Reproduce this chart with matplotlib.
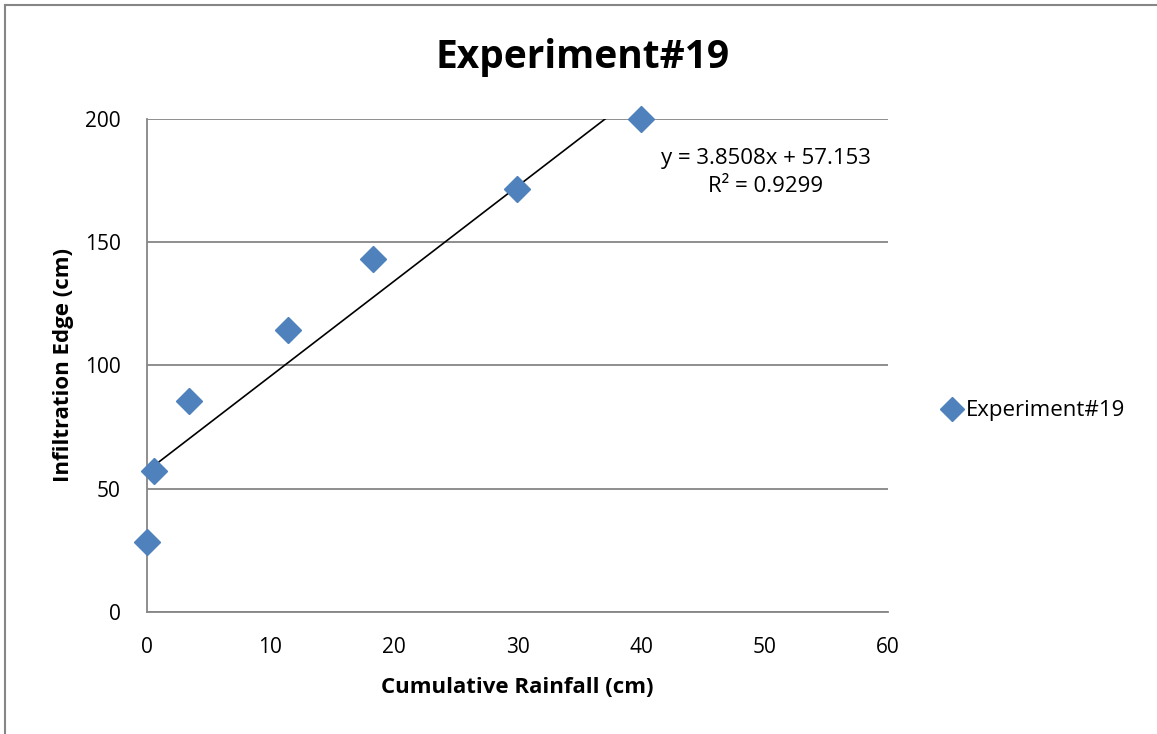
import numpy as np
import matplotlib
matplotlib.use("Agg")
import matplotlib.pyplot as plt
from matplotlib.lines import Line2D

plt.rcParams['font.family'] = ['Open Sans', 'DejaVu Sans']

# data
rainfall = [0, 0.6, 3.4, 11.4, 18.3, 30.0, 40.0]
edge = [28.6, 57.2, 85.8, 114.4, 143.0, 171.5, 200.0]
slope = 3.8508
intercept = 57.153
r2 = 0.9299

fig = plt.figure(figsize=(11.57, 7.34), dpi=100)
ax = fig.add_axes([0.127, 0.1662, 0.6405, 0.6717])

# gridlines
ax.set_axisbelow(True)
ax.yaxis.grid(True, color="#868686", linewidth=1.3)

# trendline
xt = np.array([0, 40])
ax.plot(xt, slope * xt + intercept, color="black", linewidth=1.2, zorder=2)

ax.plot(rainfall, edge, linestyle="none", marker="D", markersize=13.5,
        color="#4F81BD", markeredgecolor="#4F81BD", label="Experiment#19",
        zorder=3, clip_on=False)

ax.set_xlim(0, 60)
ax.set_ylim(0, 200)
ax.set_xticks(range(0, 61, 10))
ax.set_yticks(range(0, 201, 50))
ax.tick_params(length=0, labelsize=15)
ax.tick_params(axis="x", pad=18)
ax.tick_params(axis="y", pad=19)

for s in ["top", "right"]:
    ax.spines[s].set_visible(False)
for s in ["left", "bottom"]:
    ax.spines[s].set_color("#868686")
    ax.spines[s].set_linewidth(1.3)

ax.set_xlabel("Cumulative Rainfall (cm)", fontsize=16, fontweight="bold", labelpad=14)
ax.set_ylabel("Infiltration Edge (cm)", fontsize=16, fontweight="bold", labelpad=8)
fig.text(0.5035, 0.922, "Experiment#19", fontsize=28, fontweight="bold",
         ha="center", va="center")

ax.text(50.1, 178.3, "y = 3.8508x + 57.153\nR² = 0.9299", fontsize=16,
        ha="center", va="center", linespacing=1.45)

leg = ax.legend(loc="center left", bbox_to_anchor=(1.0445, 0.408), frameon=False,
                fontsize=16, handlelength=1.0, handletextpad=0.1, markerscale=0.88)

# outer chart border (top and left visible)
fig.add_artist(Line2D([0.0045, 1.0], [0.993, 0.993], color="#868686", linewidth=1.5))
fig.add_artist(Line2D([0.0045, 0.0045], [0.0, 0.993], color="#868686", linewidth=1.5))

fig.savefig("out.png", dpi=100)
